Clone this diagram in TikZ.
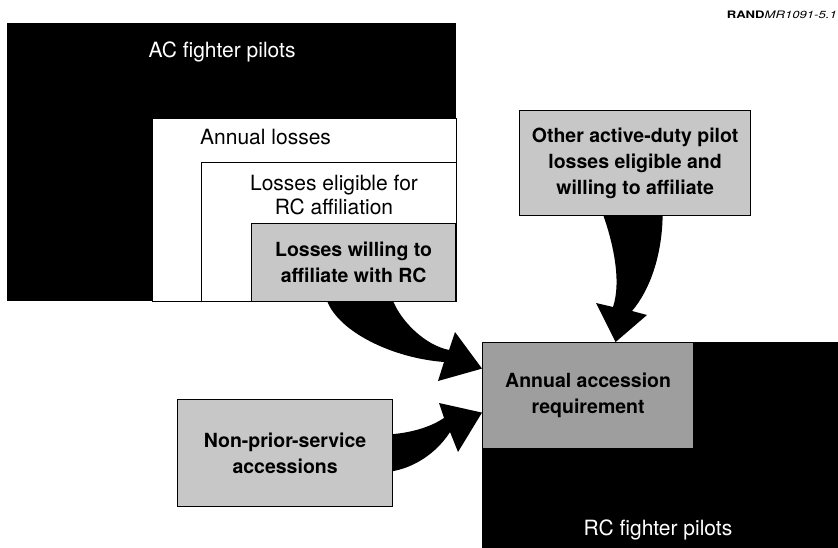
\documentclass[tikz,border=0pt]{standalone}
\usepackage{fontspec}
\setmainfont{TeX Gyre Heros}
\usetikzlibrary{calc}

\definecolor{lightgrey}{gray}{0.78}
\definecolor{midgrey}{gray}{0.62}

\begin{document}
\begin{tikzpicture}[x=1pt,y=-1pt,
    box/.style={rectangle,inner sep=0pt,anchor=north west},
    lbl/.style={inner sep=0pt,font=\fontsize{21}{24}\selectfont,align=center},
    grey box/.style={box,fill=lightgrey,draw=black,line width=1.2pt,
                     font=\fontsize{19.5}{26}\selectfont\bfseries,align=center},
    flow/.style={fill=black,draw=none}]
  \useasboundingbox (0,0) rectangle (838,548);

  \node[inner sep=0pt,anchor=base east,font=\fontsize{10}{12}\selectfont]
    (tag) at (837,19) {\resizebox{110pt}{7.5pt}{\textbf{RAND}\textit{MR1091-5.1}}};

  % active component, nested boxes
  \node[box,fill=black,minimum width=449pt,minimum height=278pt] (ac) at (7,23) {};
  \node[box,fill=white,draw=black,line width=.6pt,minimum width=304pt,minimum height=183pt] (losses) at (152,118) {};
  \node[box,fill=white,draw=black,line width=1.2pt,minimum width=255pt,minimum height=139pt] (eligible) at (201,162) {};
  \node[grey box,minimum width=204pt,minimum height=78pt] (willing) at (251,223)
    {Losses willing to\\affiliate with RC};

  \node[lbl,text=white,anchor=base] (aclbl) at (222,58) {AC fighter pilots};
  \node[lbl,anchor=base west] (losslbl) at (200,145) {Annual losses};
  \node[lbl] (elilbl) at (334,195) {Losses eligible for\\RC affiliation};

  % other sources
  \node[grey box,minimum width=231pt,minimum height=105pt] (other) at (519,110)
    {Other active-duty pilot\\losses eligible and\\willing to affiliate};
  \node[grey box,minimum width=215pt,minimum height=107pt] (nps) at (177,399)
    {Non-prior-service\\accessions};

  % reserve component
  \node[box,fill=black,minimum width=356pt,minimum height=206pt] (rc) at (482,342) {};
  \node[grey box,fill=midgrey,minimum width=211pt,minimum height=106pt] (accn) at (482,342)
    {Annual accession\\requirement};
  \node[lbl,text=white,anchor=base] (rclbl) at (658,535) {RC fighter pilots};

  % flows into the requirement
  \fill[flow] ($(willing.south)+(-26,0)$) .. controls (340,332) and (392,358) .. (444,362)
     -- (438,381) -- ($(accn.west)+(0,-27)$) -- (455,332) -- (449,350)
     .. controls (425,345) and (402,322) .. ($(willing.south)+(40,0)$) -- cycle;
  \fill[flow] ($(nps.east)+(0,-19)$) .. controls (415,432) and (432,426) .. (444,418)
     -- (439,403) -- ($(accn.west)+(0,17)$) -- (458,452) -- (450,432)
     .. controls (440,448) and (420,466) .. ($(nps.east)+(0,18)$) -- cycle;
  \fill[flow] ($(other.south)+(-31.5,0)$) .. controls (612,240) and (622,280) .. (613,307)
     -- (596,303) -- ($(accn.north)+(27.5,0)$) -- (647,315) -- (632,311)
     .. controls (650,290) and (662,255) .. ($(other.south)+(27.5,0)$) -- cycle;
\end{tikzpicture}
\end{document}
